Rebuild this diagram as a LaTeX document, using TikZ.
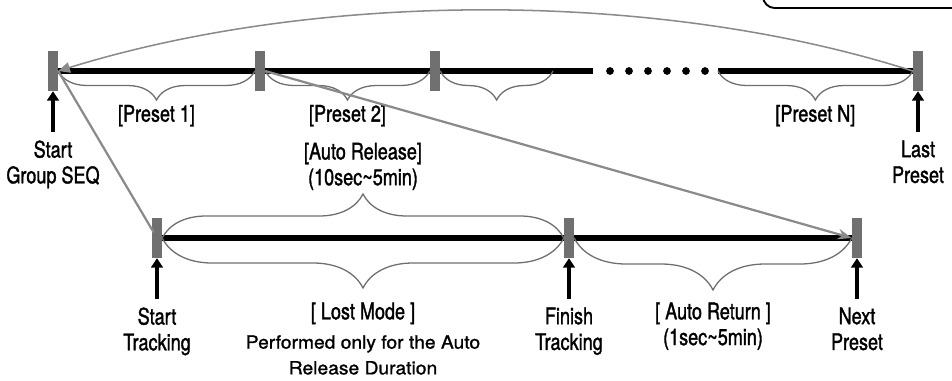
\documentclass[tikz,border=0pt]{standalone}
\usepackage{fontspec}
\setmainfont{TeX Gyre Heros}[FakeStretch=0.79,FakeBold=1.4]
\newfontfamily\notefam{TeX Gyre Heros}[FakeStretch=1.06,FakeBold=1.2]
\newcommand\lostnote{\notefam\fontsize{15.5}{24}\selectfont}
\usetikzlibrary{positioning,arrows.meta,decorations.pathreplacing}
\definecolor{bargray}{RGB}{112,112,112}
\definecolor{linkgray}{RGB}{138,138,138}
\definecolor{bracegray}{RGB}{110,110,110}

\begin{document}
\begin{tikzpicture}[x=0.03cm, y=-0.03cm,
  bar node/.style={rectangle,fill=bargray,minimum width=0.3cm,minimum height=1.2cm,inner sep=0pt},
  seq line/.style={line width=4.6pt,black},
  up arrow/.style={line width=3.2pt,shorten <=0.25cm,-{Triangle[length=8pt,width=10pt]}},
  tag/.style={align=center,font=\fontsize{19.5}{22}\selectfont,inner sep=0pt},
  brace down/.style={decorate,decoration={brace,amplitude=#1},draw=bracegray,line width=1.1pt},
  link/.style={draw=linkgray,line width=1.9pt}]
\useasboundingbox (0,0) rectangle (952,380);

% upper sequence
\node[bar node] (m0) at (53,71) {};
\node[bar node] (m1) at (260,71) {};
\node[bar node] (m2) at (435,71) {};
\node[bar node] (mN) at (918,71) {};
\coordinate (gapL) at (593,71);
\coordinate (gapR) at (718,71);
\coordinate (b3) at (553,71);

% lower sequence
\node[bar node] (t0) at (157,238) {};
\node[bar node] (t1) at (569,238) {};
\node[bar node] (t2) at (857,238) {};

\path[seq line]
    (m0) edge (m1)
    (m1) edge (m2)
    (m2) edge (gapL)
    (gapR) edge (mN)
    (t0) edge (t1)
    (t1) edge (t2);
\foreach \x in {610,629,648,667,686,705}
    \fill (\x,71) circle (3.3pt);

% braces
\draw[brace down=0.87cm] (m1.west) -- (m0.east) node[midway,tag,below=1cm] {[Preset 1]};
\draw[brace down=0.87cm] (m2.west) -- (m1.east) node[midway,tag,below=1cm] {[Preset 2]};
\draw[brace down=0.87cm] (b3) -- (m2.east);
\draw[brace down=0.87cm] (mN.west) -- (gapR) node[midway,tag,below=1cm] {[Preset N]};
\draw[brace down=1.32cm] (t0.east) -- (t1.west) node[midway,tag,above=1.42cm] {[Auto Release]\\(10sec\textasciitilde5min)};
\draw[brace down=1.5cm] (t1.west) -- (t0.east) node[midway,tag,below=1.92cm] {[ Lost Mode ]\\[3pt]{\lostnote Performed only for the Auto}\\{\lostnote Release Duration}};
\draw[brace down=1.56cm] (t2.west) -- (t1.east) node[midway,tag,below=1.92cm] {[ Auto Return ]\\(1sec\textasciitilde5min)};

% event labels
\node[tag, below=1.47cm of m0] (sg) {Start\\Group SEQ};
\node[tag, below=1.47cm of mN] (lp) {Last\\Preset};
\node[tag, below=1.47cm of t0] (st) {Start\\Tracking};
\node[tag, below=1.47cm of t1] (ft) {Finish\\Tracking};
\node[tag, below=1.47cm of t2] (np) {Next\\Preset};
\path[up arrow]
    (sg) edge (m0)
    (lp) edge (mN)
    (st) edge (t0)
    (ft) edge (t1)
    (np) edge (t2);

% jumps
\draw[link,line width=1.3pt,-{Triangle[length=10pt,width=9pt]}]
    (mN.west) .. controls (660,-10) and (320,-10) .. (m0.east);
\draw[link,shorten >=0.2cm] (m0.east) -- (t0.center);
\draw[link,-{Stealth[length=12pt,width=9pt]}] (m1.east) -- (t2.west);

% frame corner
\draw[line width=1.6pt,rounded corners=10pt] (763,-30) -- (763,8) -- (980,8);
\end{tikzpicture}
\end{document}
